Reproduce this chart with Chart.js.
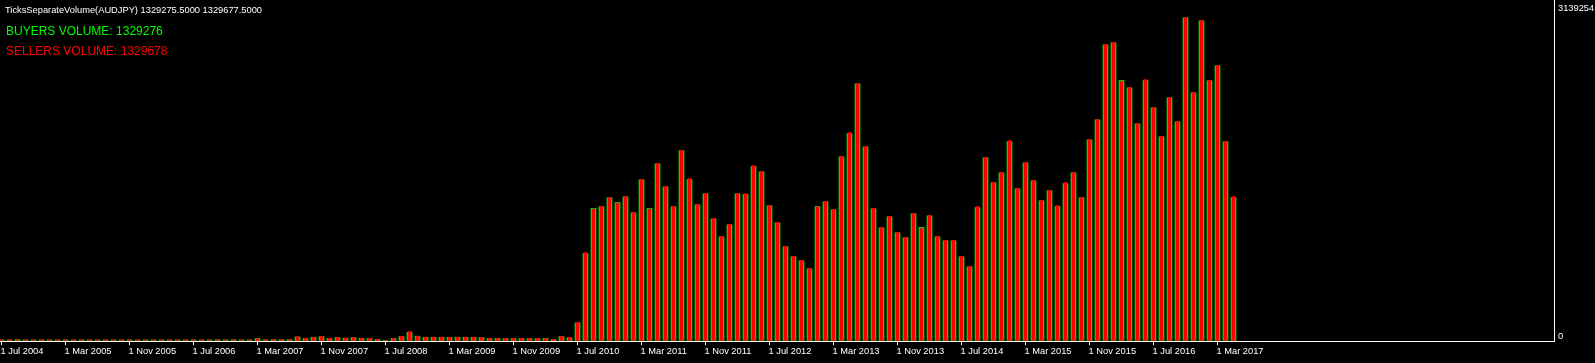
<!DOCTYPE html>
<html>
<head>
<meta charset="utf-8">
<script src="https://cdn.jsdelivr.net/npm/chart.js@4.4.1/dist/chart.umd.min.js"></script>
<style>
  html, body { margin: 0; padding: 0; background: #000; }
  #wrap { position: relative; width: 1595px; height: 363px; background: #000; }
  .txt { position: absolute; white-space: nowrap; font-family: "Liberation Sans", Arial, sans-serif; }
  #head { left: 5px; top: 4px; font-size: 9.3px; line-height: 12px; color: #fff; }
  #buy { left: 6px; top: 24px; font-size: 12px; line-height: 14px; color: #00ff00; }
  #sell { left: 6px; top: 44px; font-size: 12px; line-height: 14px; color: #ff0000; }
</style>
</head>
<body>
<div id="wrap">
  <canvas id="vol"></canvas>
  <div class="txt" id="head"></div>
  <div class="txt" id="buy"></div>
  <div class="txt" id="sell"></div>
</div>
<script>
// monthly bars, first one is Jul 2004
const headerText = "TicksSeparateVolume(AUDJPY) 1329275.5000 1329677.5000";
const buyersLabel = "BUYERS VOLUME: 1329276";
const sellersLabel = "SELLERS VOLUME: 1329678";

const xTickLabels = [
  "1 Jul 2004", "1 Mar 2005", "1 Nov 2005", "1 Jul 2006", "1 Mar 2007",
  "1 Nov 2007", "1 Jul 2008", "1 Mar 2009", "1 Nov 2009", "1 Jul 2010",
  "1 Mar 2011", "1 Nov 2011", "1 Jul 2012", "1 Mar 2013", "1 Nov 2013",
  "1 Jul 2014", "1 Mar 2015", "1 Nov 2015", "1 Jul 2016", "1 Mar 2017"
];
const monthsPerTick = 8;
const yTickValues = [0, 3139254];
const yTickLabels = ["0", "3139254"];

const sellers = [
  9800, 10100, 10500, 9900, 9600, 10300, 9700, 10000, 9500, 9800,
  10200, 9900, 9400, 9800, 10100, 9700, 9600, 9900, 9500, 8200,
  9800, 9600, 10000, 9700, 9500, 9800, 9900, 9300, 9600, 9400,
  9700, 9500, 21500, 10500, 12600, 12100, 12400, 40800, 24300, 35000,
  43700, 24300, 34000, 27200, 34000, 23400, 24300, 14600, 4900, 24300,
  43700, 92200, 46600, 36900, 36900, 36900, 36900, 35800, 36900, 36900,
  34000, 24300, 23400, 24300, 24300, 24300, 24300, 24300, 23300, 14600,
  43700, 36900, 179500, 858800, 1278000, 1305200, 1392500, 1335300, 1402200, 1247000,
  1567200, 1278000, 1722500, 1499300, 1305200, 1848600, 1576900, 1324600, 1431300, 1188700,
  1014100, 1130500, 1431300, 1431300, 1703100, 1644800, 1314900, 1149900, 917000, 820000,
  781200, 703500, 1298400, 1353700, 1276100, 1790400, 2023300, 2498800, 1887400, 1285800,
  1101400, 1208100, 1052900, 1004400, 1237300, 1091700, 1217900, 1014100, 975300, 975300,
  820000, 723000, 1305200, 1780700, 1538100, 1635100, 1945600, 1479900, 1732200, 1557500,
  1363400, 1460500, 1314900, 1538100, 1635100, 1392500, 1955400, 2149400, 2877200, 2896600,
  2518200, 2460000, 2110600, 2537600, 2265900, 1984500, 2362900, 2130000, 3139254, 2411400,
  3110100, 2527900, 2673500, 1935900, 1402200
];
const buyers = [
  9500, 9700, 12500, 9600, 9400, 10000, 9500, 9800, 9300, 9600,
  9900, 9700, 9200, 9600, 9800, 9500, 9400, 9700, 9300, 9900,
  9500, 9400, 9700, 9500, 9300, 9600, 9600, 11200, 9400, 11000,
  9500, 9300, 24300, 10200, 12300, 11800, 12000, 39500, 23800, 36900,
  42500, 23900, 33500, 26800, 33400, 24300, 23800, 14200, 4600, 23700,
  42800, 84000, 45800, 36000, 36200, 36300, 36100, 36900, 36200, 36000,
  33300, 23700, 24300, 23800, 23700, 23900, 23600, 23800, 24300, 14000,
  42600, 31000, 176500, 849100, 1285800, 1302000, 1389000, 1344000, 1399000, 1244000,
  1564000, 1285800, 1719000, 1496000, 1302000, 1845000, 1567200, 1321000, 1428000, 1185000,
  1011000, 1127000, 1428000, 1421600, 1693300, 1641000, 1311000, 1146000, 914000, 817000,
  778000, 700000, 1305200, 1350000, 1273000, 1787000, 2013600, 2495000, 1884000, 1282000,
  1098000, 1205000, 1050000, 1001000, 1234000, 1101400, 1214000, 1011000, 972000, 972000,
  817000, 720000, 1295500, 1777000, 1535000, 1632000, 1935900, 1476000, 1729000, 1554000,
  1360000, 1457000, 1305200, 1528400, 1632000, 1389000, 1952000, 2146000, 2874000, 2893000,
  2527900, 2457000, 2107000, 2527900, 2262000, 1981000, 2359000, 2126000, 3136000, 2408000,
  3106000, 2524000, 2670000, 1932000, 1392500
];

document.getElementById("head").textContent = headerText;
document.getElementById("buy").textContent = buyersLabel;
document.getElementById("sell").textContent = sellersLabel;

const toPoints = arr => arr.map((v, i) => ({ x: i, y: v }));
const tickFont = { family: "Liberation Sans", size: 9.3 };

new Chart(document.getElementById("vol"), {
  type: "bar",
  data: {
    datasets: [
      { label: "Sellers", data: toPoints(sellers), backgroundColor: "#ff0000", barThickness: 3 },
      { label: "Buyers", data: toPoints(buyers), backgroundColor: "#00ff00", barThickness: 5 }
    ]
  },
  options: {
    responsive: true,
    maintainAspectRatio: false,
    animation: false,
    devicePixelRatio: 1,
    grouped: false,
    layout: { padding: 0 },
    plugins: { legend: { display: false }, tooltip: { enabled: false } },
    scales: {
      x: {
        type: "linear",
        offset: false,
        min: -0.1875,
        max: 194.0625,
        grid: { offset: false, drawOnChartArea: false, color: "#fff", tickLength: 4 },
        border: { color: "#fff" },
        ticks: {
          color: "#fff",
          font: tickFont,
          align: "start",
          autoSkip: false,
          maxRotation: 0,
          minRotation: 0,
          padding: 1,
          labelOffset: -1,
          callback: (v, i) => xTickLabels[i]
        },
        afterBuildTicks: s => { s.ticks = xTickLabels.map((_, k) => ({ value: k * monthsPerTick })); },
        afterFit: s => { s.height = 22; s.paddingLeft = 0; s.paddingRight = 0; }
      },
      y: {
        position: "right",
        min: 0,
        max: 3309000,
        grid: { drawOnChartArea: false, drawTicks: false },
        border: { color: "#fff" },
        ticks: {
          color: "#fff",
          font: { family: "Liberation Sans", size: 9.3, lineHeight: 0.95 },
          padding: 4,
          labelOffset: -5,
          // top label sits against the window top like in the terminal
          callback: (v, i) => i === yTickValues.length - 1 ? [yTickLabels[i], ""] : yTickLabels[i]
        },
        afterBuildTicks: s => { s.ticks = yTickValues.map(v => ({ value: v })); },
        afterFit: s => { s.width = 41; s.paddingTop = 0; s.paddingBottom = 0; }
      }
    }
  }
});
</script>
</body>
</html>
